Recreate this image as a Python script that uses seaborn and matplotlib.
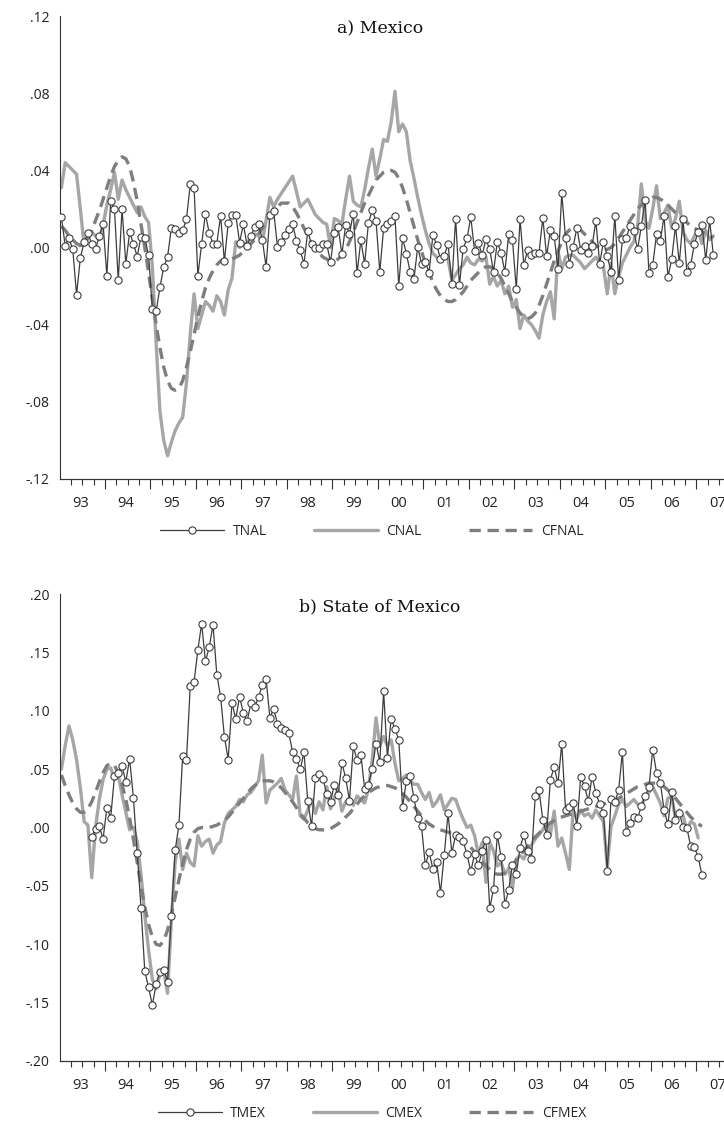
import numpy as np
import pandas as pd
import matplotlib
matplotlib.use("Agg")
import matplotlib.pyplot as plt
import seaborn as sns
from matplotlib.ticker import FixedLocator, FixedFormatter, NullFormatter, NullLocator

sns.set_theme(style="white")
plt.rcParams['font.family'] = ['Open Sans', 'DejaVu Sans']

# ---------------- data (monthly, first observation 1993M01) ----------------
START_YEAR = 1993

tnal = [
    .0157, .001, .005, -.001, -.0245, -.0055, .003, .0074, .002, -.001,
    .006, .012, -.0147, .024, .020, -.017, .020, -.0084, .008, .002,
    -.0047, .0057, .005, -.004, -.032, -.033, -.0207, -.010, -.005, .010,
    .0095, .0074, .009, .0147, .0328, .031, -.0147, .002, .0174, .0074,
    .002, .002, .0164, -.0072, .0126, .017,
    .017, .0025, .012, .001, .006, .0106, .012, .004, -.010, .0169, .019,
    .0004, .0028, .0065, .0094, .0124, .0032, -.0015, -.0084, .0086, .0017,
    .000, 0.0, .0017, .0017, -.0075, .0074, .0108, -.0035, .0117, .0072,
    .0176, -.0134, .0037, -.0084, .0127, .0195, .0138, -.0127, .010, .012,
    .0138, .0162, -.020, .005,
    -.0032, -.0126, -.0165, .0004, -.0084, -.0074, -.013, .0065, .0013, -.0058,
    -.0044, .002, -.019, .015, -.0196, -.0006, .0048, .0157, -.0018, .0025,
    -.0039, .0043, -.001, -.0126, .003, -.003, -.0126, .0069, .0039, -.0214,
    .0146, -.0091, -.0013, -.0039, -.0027, -.0027, .0153, -.0044, .0089, .006,
    -.0112, .028, .0048,
    -.0084, .0003, .0103, -.0015, .0008, -.003, .0008, .0138, -.0084, .003,
    -.0044, -.0127, .0165, -.0169, .0043, .0051, .011, .0086, -.001, .0112,
    .0247, -.013, -.0091, .0069, .0034, .0164, -.0153, -.0062, .0112, -.0082,
    .0146, -.0126, -.0093, .002, .008, .0115, -.0067, .0141, -.004,
]

cnal = [
    .031, .044, .042, .040, .038, .020, .001, .005, .008, .006,
    .004, .012, .022, .030, .039, .025, .035, .030, .026, .022,
    .018, .021, .016, .013, -.010, -.050, -.085, -.100, -.108, -.101,
    -.095, -.091, -.088, -.070, -.045, -.024, -.042, -.035, -.028, -.030,
    -.033, -.025, -.028, -.035, -.022, -.016, .003, .000, .002, .002,
    .006, .007, .006, .003, .014, .026, .021, .025, .028, .031,
    .034, .037, .029, .021, .023, .025, .021, .017, .015, .013,
    .012, .000, .015, .014, .012, .025, .037, .024, .022, .021,
    .030, .041, .051, .037, .046, .056, .055, .065, .081, .060,
    .064, .060, .045, .036, .026, .017, .009, .002, -.003, -.005,
    -.006, -.004, -.006, -.017, -.014, -.011, -.009, -.005, -.008, -.009,
    -.006, -.007, -.005, -.019, -.015, -.020, -.017, -.024, -.020, -.031,
    -.027, -.042, -.035, -.038, -.040, -.043, -.047, -.035, -.028, -.023,
    -.037, -.002, -.011, -.005, -.004, -.004, -.006, -.008, -.011, -.009,
    -.007, -.005, -.008, -.010, -.024, -.008, -.024, -.015, -.008, -.004,
    .000, .003, .011, .033, .014, .010, .020, .032, .015, .018,
    .022, .010, .015, .024, .008, .004, .002, .006, .009, .002,
    .009, .004, .006,
]

cfnal = [
    .011, .009, .006, .004, .002, .001, .002, .005, .009, .014,
    .019, .025, .031, .037, .042, .045, .047, .046, .042, .034,
    .024, .012, .000, -.013, -.027, -.040, -.052, -.062, -.069, -.073,
    -.074, -.073, -.069, -.062, -.054, -.045, -.036, -.028, -.021, -.016,
    -.012, -.009, -.007, -.006, -.006, -.006, -.005, -.004, -.002, .000,
    .002, .004, .007, .010, .013, .016, .019, .021, .023, .023,
    .023, .021, .018, .014, .010, .006, .002, -.001, -.003, -.005,
    -.006, -.007, -.007, -.006, -.004, -.001, .003, .008, .013, .018,
    .023, .027, .031, .035, .037, .039, .040, .040, .039, .036,
    .031, .025, .018, .011, .004, -.002, -.008, -.013, -.018, -.022,
    -.025, -.027, -.028, -.028, -.027, -.025, -.023, -.020, -.017, -.015,
    -.013, -.011, -.010, -.010, -.011, -.013, -.016, -.020, -.024, -.028,
    -.031, -.034, -.036, -.037, -.036, -.034, -.030, -.025, -.019, -.013,
    -.007, -.002, .003, .007, .009, .010, .010, .009, .007, .005,
    .003, .001, .000, -.001, -.001, .000, .002, .005, .008, .011,
    .014, .017, .020, .022, .024, .025, .026, .026, .025, .024,
    .022, .020, .018, .016, .014, .013, .011, .010, .009, .008,
    .007, .006, .005,
]

tmex_start_month = 8  # TMEX begins 1993M09
tmex = [
    -.008, -.001, .001, -.0097, .017, .0083, .044, .047, .0525, .039,
    .059, .0254, -.0217, -.0688, -.123, -.137, -.152, -.134, -.124, -.122,
    -.132, -.076, -.0197, .002, .0616, .058, .1216, .1247, .152, .1747,
    .1424, .1544, .1738, .131, .112, .0777, .0582, .1067, .093, .112,
    .098, .091, .1067, .1033, .1116, .122, .1273, .094, .1016, .089,
    .0853, .0833, .081, .0645, .059, .0497, .0645, .0225, .001, .0425,
    .046, .0417, .029, .0217, .0368, .0277, .0554, .0422, .0231, .0696,
    .0576, .0625, .033, .0368, .0505, .0719, .0562, .1167, .0597, .093,
    .0845, .0753, .0177, .0397, .0445, .025, .0083, .0011, -.0325, -.0211,
    -.0354, -.0297, -.0559, -.0234, .012, -.0217, -.0066, -.008, -.0117, -.0231,
    -.0374, -.0231, -.0323, -.020, -.0103, -.0693, -.0525, -.006, -.0254, -.0659,
    -.0537, -.0317, -.0397, -.0174, -.006, -.0203, -.0268, .0268, .0319, .0068,
    -.006, .0411, .0516, .0377, .0719, .0154, .0177, .0211, .0011, .0434,
    .0354, .0225, .0434, .0297, .020, .0126, -.0374, .0248, .0217, .0319,
    .0648, -.004, .004, .0092, .0083, .018, .027, .0345, .0668, .0468,
    .0383, .015, .0026, .0302, .0063, .0126, .0006, 0.0, -.016, -.0171,
    -.0254, -.041,
]

cmex = [
    .050, .070, .087, .075, .058, .034, .005, .002, -.043, .000,
    .024, .041, .050, .051, .041, .045, .028, .013, -.002, .000,
    -.012, -.040, -.075, -.105, -.130, -.138, -.125, -.122, -.142, -.080,
    -.030, -.010, -.036, -.022, -.030, -.033, -.007, -.016, -.012, -.010,
    -.022, -.015, -.012, .004, .012, .015, .018, .024, .022, .028,
    .030, .035, .040, .062, .021, .032, .035, .038, .042, .032,
    .028, .024, .044, .010, .007, .015, .024, .012, .022, .015,
    .035, .016, .025, .033, .014, .022, .025, .019, .027, .024,
    .021, .033, .058, .094, .070, .078, .070, .075, .055, .040,
    .042, .045, .040, .037, .037, .030, .024, .030, .018, .022,
    .028, .015, .020, .025, .024, .015, .007, .000, .002, -.007,
    -.023, -.013, -.047, -.013, -.020, -.033, -.030, -.040, -.035, -.052,
    -.027, -.024, -.027, -.019, -.015, -.010, -.006, -.002, .004, -.006,
    .014, -.016, -.009, -.022, -.036, .015, .008, .015, .010, .012,
    .008, .015, .010, .005, -.033, .001, .010, .020, .024, .018,
    .021, .024, .020, .018, .027, .030, .035, .028, .021, .010,
    .025, .027, .007, .015, .010, -.002, .005, .003, -.009,
]

cfmex = [
    .045, .036, .028, .021, .016, .013, .013, .016, .022, .030,
    .039, .047, .053, .055, .053, .047, .037, .024, .008, -.010,
    -.030, -.050, -.068, -.083, -.094, -.100, -.101, -.097, -.088, -.075,
    -.060, -.045, -.031, -.019, -.010, -.004, -.001, .000, .000, .000,
    .001, .002, .004, .006, .009, .013, .017, .021, .025, .029,
    .033, .036, .038, .040, .040, .040, .039, .037, .034, .030,
    .026, .022, .017, .012, .008, .004, .001, -.001, -.002, -.002,
    -.002, -.001, .001, .003, .006, .009, .012, .016, .020, .024,
    .027, .030, .032, .034, .035, .036, .036, .035, .034, .032,
    .029, .026, .022, .018, .014, .010, .006, .003, .001, -.001,
    -.002, -.003, -.004, -.005, -.006, -.008, -.010, -.013, -.017, -.021,
    -.025, -.029, -.033, -.036, -.039, -.040, -.040, -.039, -.036, -.032,
    -.028, -.024, -.020, -.016, -.012, -.008, -.005, -.002, .001, .004,
    .006, .008, .009, .010, .011, .012, .013, .014, .015, .016,
    .017, .018, .019, .020, .021, .022, .023, .025, .027, .029,
    .031, .033, .035, .036, .037, .038, .038, .038, .037, .035,
    .032, .029, .025, .021, .017, .013, .009, .006, .003, .001,
]

year_labels = ['93', '94', '95', '96', '97', '98', '99', '00', '01', '02',
               '03', '04', '05', '06', '07']
top_yticks = [-.12, -.08, -.04, .00, .04, .08, .12]
top_ylabels = ['-.12', '-.08', '-.04', '.00', '.04', '.08', '.12']
bot_yticks = [-.20, -.15, -.10, -.05, .00, .05, .10, .15, .20]
bot_ylabels = ['-.20', '-.15', '-.10', '-.05', '.00', '.05', '.10', '.15', '.20']

panel_titles = ['a) Mexico', 'b) State of Mexico']
top_names = ['TNAL', 'CNAL', 'CFNAL']
bot_names = ['TMEX', 'CMEX', 'CFMEX']

# ---------------- styling ----------------
C_T = '#3d3d3d'
C_C = '#a6a6a6'
C_CF = '#7e7e7e'
W, H = 724, 1123


def months_to_year(months):
    return START_YEAR + np.asarray(months, dtype=float) / 12.0


def frame(series, offset=0):
    n = len(series)
    return pd.DataFrame({'x': months_to_year(np.arange(n) + offset), 'y': series})


def draw_panel(ax, t_vals, t_off, c_vals, cf_vals, names, title, yticks, ylabels):
    sns.lineplot(data=frame(c_vals), x='x', y='y', ax=ax, color=C_C, lw=2.4,
                 label=names[1], zorder=2)
    sns.lineplot(data=frame(cf_vals), x='x', y='y', ax=ax, color=C_CF, lw=2.4,
                 linestyle=(0, (3.4, 2.0)), label=names[2], zorder=2)
    sns.lineplot(data=frame(t_vals, t_off), x='x', y='y', ax=ax, color=C_T, lw=0.9,
                 marker='o', markersize=5.2, markerfacecolor='white',
                 markeredgecolor=C_T, markeredgewidth=0.8, label=names[0], zorder=3)

    x0 = START_YEAR - 0.5 / 12
    x1 = x0 + 175.3 / 12
    ax.set_xlim(x0, x1)
    ax.set_ylim(yticks[0], yticks[-1])

    # y axis
    ax.yaxis.set_major_locator(FixedLocator(yticks))
    ax.yaxis.set_major_formatter(FixedFormatter(ylabels))
    ax.tick_params(axis='y', which='major', direction='out', length=4, width=0.8,
                   color='#333333', labelsize=10, pad=3, labelcolor='#222222')

    # x labels near mid-year (no visible tick)
    nyears = len(year_labels)
    label_pos = [START_YEAR + k + 5.0 / 12 for k in range(nyears)]
    ax.xaxis.set_major_locator(FixedLocator(label_pos))
    ax.xaxis.set_major_formatter(FixedFormatter(year_labels))
    ax.xaxis.set_minor_locator(NullLocator())
    ax.tick_params(axis='x', which='major', length=0, labelsize=10.5, pad=12,
                   labelcolor='#222222')

    # year-boundary and quarterly ticks on a secondary bottom axis
    sec = ax.secondary_xaxis('bottom')
    sec.xaxis.set_major_locator(FixedLocator([x0 + k for k in range(1, nyears + 1)]))
    sec.xaxis.set_minor_locator(FixedLocator([x0 + q * 0.25 for q in range(1, 4 * nyears + 2)]))
    sec.xaxis.set_major_formatter(NullFormatter())
    sec.xaxis.set_minor_formatter(NullFormatter())
    sec.tick_params(axis='x', which='major', direction='out', length=7, width=0.8, color='#333333')
    sec.tick_params(axis='x', which='minor', direction='out', length=4, width=0.8, color='#333333')
    sec.spines['bottom'].set_linewidth(0.8)
    sec.spines['bottom'].set_color('#333333')

    for s in ['top', 'right']:
        ax.spines[s].set_visible(False)
    for s in ['left', 'bottom']:
        ax.spines[s].set_linewidth(0.8)
        ax.spines[s].set_color('#333333')
    ax.set_xlabel('')
    ax.set_ylabel('')
    ax.grid(False)

    ax.text(0.482, 0.99, title, transform=ax.transAxes, ha='center', va='top',
            fontsize=12.5, family=['DejaVu Serif'], color='#111111')

    handles, labels = ax.get_legend_handles_labels()
    order = [labels.index(n) for n in names]
    ax.legend([handles[i] for i in order], [labels[i] for i in order],
              loc='upper center', bbox_to_anchor=(0.47, -0.085), ncol=3,
              frameon=False, fontsize=10, handlelength=4.6, handletextpad=0.6,
              columnspacing=3.4, borderaxespad=0)


fig = plt.figure(figsize=(W / 100, H / 100), dpi=100)
left = 59.5 / W
width = (W - 59.5) / W
ax1 = fig.add_axes([left, 1 - 479 / H, width, (479 - 16) / H])
ax2 = fig.add_axes([left, 1 - 1061 / H, width, (1061 - 594) / H])

draw_panel(ax1, tnal, 0, cnal, cfnal, top_names, panel_titles[0], top_yticks, top_ylabels)
draw_panel(ax2, tmex, tmex_start_month, cmex, cfmex, bot_names, panel_titles[1], bot_yticks, bot_ylabels)

fig.savefig('out.png', dpi=100)
